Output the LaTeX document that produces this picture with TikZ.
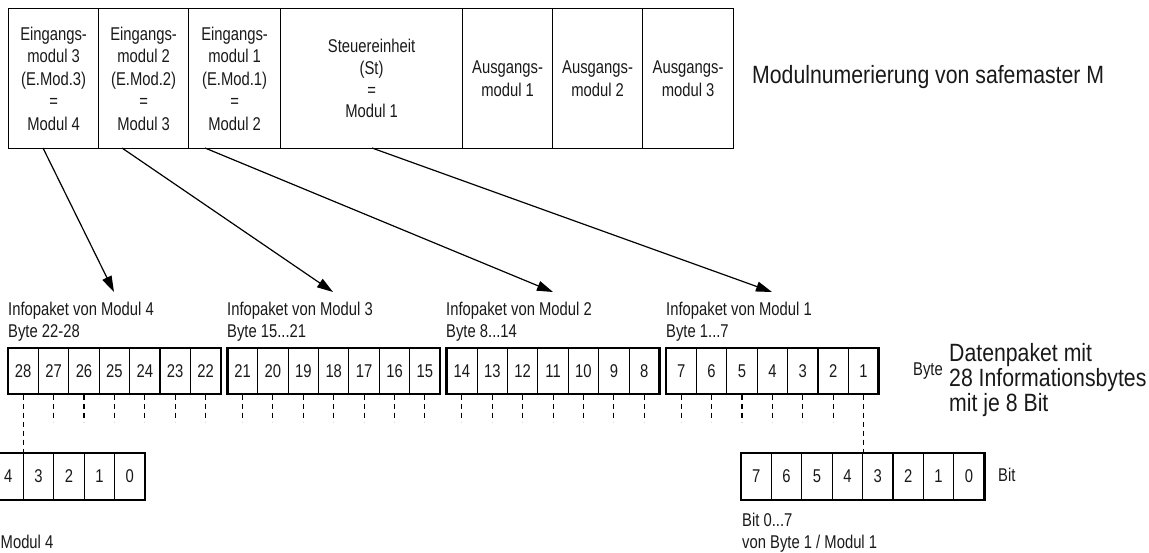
\documentclass[tikz,border=0pt]{standalone}
\usepackage{fontspec}
\setmainfont{Liberation Sans}[FakeStretch=0.8]
\newfontfamily\bigfont{Liberation Sans}[FakeStretch=0.85]
\usetikzlibrary{arrows.meta,calc}
\begin{document}
\begin{tikzpicture}[x=1pt,y=-1pt,
  every node/.style={font=\fontsize{18.5}{22.5}\selectfont, inner sep=0pt, text=black!90},
  modbox/.style={draw, line width=1.2pt, minimum height=140pt, align=center, anchor=north west},
  cell/.style={draw, line width=1.1pt, minimum width=30.4pt, minimum height=46pt},
  bitcell/.style={draw, line width=1.1pt, minimum width=30.4pt, minimum height=47pt},
  frame/.style={draw, line width=2.6pt, minimum height=46pt},
  bitframe/.style={draw, line width=2.6pt, minimum height=47pt, minimum width=243.2pt},
  lbl/.style={anchor=base west},
  big/.style={anchor=base west, font=\bigfont\fontsize{25}{25}\selectfont},
  dashln/.style={line width=1.1pt, dash pattern=on 5.5pt off 3.5pt},
  arr/.style={line width=1.2pt, -{Triangle[length=16pt,width=10pt]}}
]
\useasboundingbox (0,0) rectangle (1149,552);
\clip (0,0) rectangle (1149,552);

% module row
\node[modbox, minimum width=90pt] (m1) at (8,8) {Eingangs-\\modul 3\\(E.Mod.3)\\=\\Modul 4};
\node[modbox, minimum width=90pt] (m2) at (98,8) {Eingangs-\\modul 2\\(E.Mod.2)\\=\\Modul 3};
\node[modbox, minimum width=92pt] (m3) at (188,8) {Eingangs-\\modul 1\\(E.Mod.1)\\=\\Modul 2};
\node[modbox, minimum width=182pt, font=\fontsize{18.5}{21.7}\selectfont] (m4) at (280,8) {Steuereinheit\\(St)\\=\\Modul 1};
\node[modbox, minimum width=90pt] (m5) at (462,8) {Ausgangs-\\modul 1};
\node[modbox, minimum width=90pt] (m6) at (552,8) {Ausgangs-\\modul 2};
\node[modbox, minimum width=91pt] (m7) at (642,8) {Ausgangs-\\modul 3};
\node[big] (title) at (752,83) {Modulnumerierung von safemaster M};

% byte row
\foreach \g in {0,...,3} {
  \pgfmathsetmacro{\xs}{8+219.33*\g}
  \foreach \i in {0,...,6} {
    \pgfmathtruncatemacro{\n}{28-7*\g-\i}
    \node[cell] (b\n) at ({\xs+30.4*(\i+0.5)}, 371) {\n};
  }
  \node[frame, minimum width=212.8pt] (g\g) at ({\xs+106.4}, 371) {};
}

% info labels
\node[lbl] (i4a) at (8,315) {Infopaket von Modul 4};
\node[lbl] (i4b) at (8,337) {Byte 22-28};
\node[lbl] (i3a) at (227,315) {Infopaket von Modul 3};
\node[lbl] (i3b) at (227,337) {Byte 15...21};
\node[lbl] (i2a) at (446,315) {Infopaket von Modul 2};
\node[lbl] (i2b) at (446,337) {Byte 8...14};
\node[lbl] (i1a) at (666,315) {Infopaket von Modul 1};
\node[lbl] (i1b) at (666,337) {Byte 1...7};

\node[lbl] (bytelbl) at (913,375) {Byte};
\node[big] (d1) at (949,361.5) {Datenpaket mit};
\node[big] (d2) at (949,386.5) {28 Informationsbytes};
\node[big] (d3) at (949,411.5) {mit je 8 Bit};

% bit rows
\foreach \j in {0,...,7} {
  \pgfmathtruncatemacro{\lab}{7-\j}
  \node[bitcell] (r\lab) at ({741+30.4*(\j+0.5)}, 476.5) {\lab};
}
\node[bitframe] (rf) at (862.6,476.5) {};
\foreach \j in {3,...,7} {
  \pgfmathtruncatemacro{\lab}{7-\j}
  \node[bitcell] (l\lab) at ({145-30.4*(8-\j)+15.2}, 476.5) {\lab};
}
\node[bitframe] (lf) at (23.4,476.5) {};

\node[lbl] (bitlbl) at (998,481) {Bit};
\node[lbl] (rb1) at (742,526) {Bit 0...7};
\node[lbl] (rb2) at (742,548) {von Byte 1 / Modul 1};
\node[anchor=base west] (lb2) at (0.5,548) {Modul 4};

% dashed connectors
\foreach \n in {2,...,27} \draw[dashln] (b\n.south) -- ++(0,27);
\draw[dashln] (b28.south) -- (b28.south |- l4.north);
\draw[dashln] (b1.south) -- (b1.south |- r4.north);

% arrows
\coordinate (s1) at (43,148);  \coordinate (t1) at (114,292);
\coordinate (s2) at (122,148); \coordinate (t2) at (333,292);
\coordinate (s3) at (205,148); \coordinate (t3) at (553,292);
\coordinate (s4) at (372,148); \coordinate (t4) at (772,292);
\draw[arr] (s1) -- (t1);
\draw[arr] (s2) -- (t2);
\draw[arr] (s3) -- (t3);
\draw[arr] (s4) -- (t4);
\end{tikzpicture}
\end{document}
